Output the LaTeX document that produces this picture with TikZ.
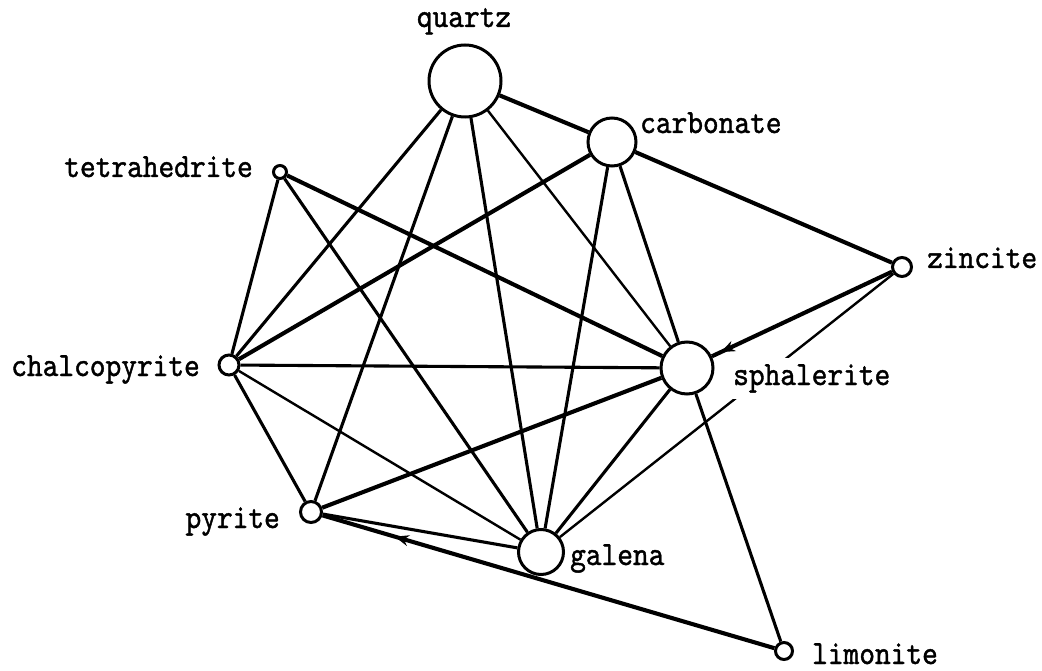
\documentclass[tikz,border=0pt]{standalone}
\usepackage{fontspec}
\usetikzlibrary{arrows.meta,decorations.markings}
\newfontfamily\labelfont[Extension=.otf,FakeStretch=0.88,FakeBold=1.2]{lmmono10-regular}

\begin{document}
\begin{tikzpicture}[x=1pt,y=-1pt,
  mineral/.style={circle,draw,line width=3pt,fill=white,inner sep=0pt,minimum size=#1},
  rel/.style={line width=3.1pt},
  heavy/.style={line width=4.1pt},
  light/.style={line width=2.4pt},
  tag/.style={font=\labelfont\fontsize{34}{36}\selectfont,inner sep=0pt},
  cover/.style={tag,fill=white,inner sep=6pt},
  flow/.style={postaction={decorate},
    decoration={markings,mark=at position #1 with {\arrow{Stealth[length=14pt,width=11pt]}}}}
]
\useasboundingbox (0,0) rectangle (1042,671);

% minerals
\node[mineral=72pt] (quartz) at (465,81) {};
\node[mineral=48pt] (carbonate) at (612,142) {};
\node[mineral=13pt] (tetrahedrite) at (280,172) {};
\node[mineral=19pt] (zincite) at (902,267) {};
\node[mineral=20pt] (chalcopyrite) at (229,365) {};
\node[mineral=52pt] (sphalerite) at (687,368) {};
\node[mineral=21pt] (pyrite) at (311,512) {};
\node[mineral=45pt] (galena) at (541,552) {};
\node[mineral=17pt] (limonite) at (784,651) {};

% associations
\draw[heavy] (quartz) -- (carbonate);
\draw[rel] (quartz) -- (chalcopyrite);
\draw[rel] (quartz) -- (pyrite);
\draw[rel] (quartz) -- (galena);
\draw[light] (quartz) -- (sphalerite);
\draw[heavy] (carbonate) -- (chalcopyrite);
\draw[rel] (carbonate) -- (galena);
\draw[rel] (carbonate) -- (sphalerite);
\draw[heavy] (carbonate) -- (zincite);
\draw[rel] (tetrahedrite) -- (chalcopyrite);
\draw[rel] (tetrahedrite) -- (galena);
\draw[heavy] (tetrahedrite) -- (sphalerite);
\draw[rel] (chalcopyrite) -- (sphalerite);
\draw[rel] (chalcopyrite) -- (pyrite);
\draw[light] (chalcopyrite) -- (galena);
\draw[heavy] (pyrite) -- (sphalerite);
\draw[rel] (pyrite) -- (galena);
\draw[rel] (galena) -- (sphalerite);
\draw[light] (galena) -- (zincite);
\draw[rel] (sphalerite) -- (limonite);
\draw[heavy,flow=0.95] (zincite) -- (sphalerite);
\draw[heavy,flow=0.84] (limonite) -- (pyrite);

% names
\node[tag,anchor=base] (tq) at (464,27) {quartz};
\node[tag,anchor=base west] (tc) at (640,133) {carbonate};
\node[tag,anchor=base east] (tt) at (253,177) {tetrahedrite};
\node[tag,anchor=base west] (tz) at (927,268) {zincite};
\node[tag,anchor=base east] (tch) at (200,376) {chalcopyrite};
\node[cover,anchor=base west] (ts) at (727,385) {sphalerite};
\node[tag,anchor=base east] (tp) at (280,528) {pyrite};
\node[tag,anchor=base west] (tg) at (570,565) {galena};
\node[tag,anchor=base west] (tl) at (812,664) {limonite};
\end{tikzpicture}
\end{document}
